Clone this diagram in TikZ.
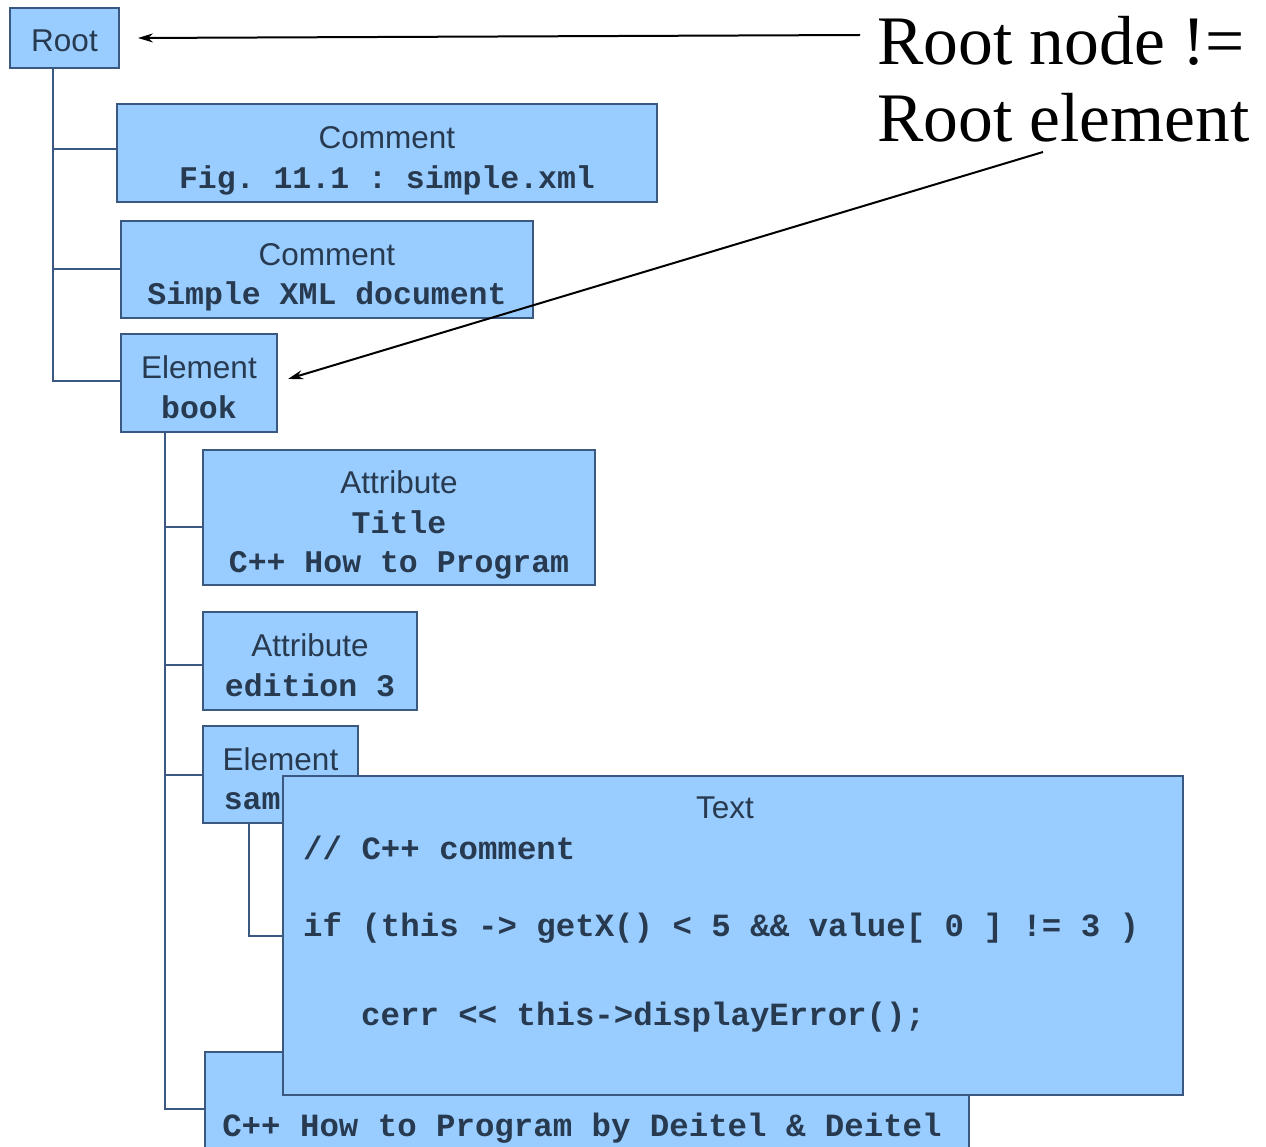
\documentclass[tikz,border=0pt]{standalone}
\usepackage{fontspec}
\setmainfont{Liberation Sans}
\newfontfamily\monotipo{Liberation Mono}
\newfontfamily\serifa{Liberation Serif}
\usetikzlibrary{calc, positioning, arrows.meta}
\definecolor{nodofondo}{RGB}{153,204,255}
\definecolor{nodoborde}{RGB}{58,88,128}
\definecolor{nodotexto}{RGB}{40,58,80}
\newcommand{\cod}[1]{{\monotipo\bfseries\frenchspacing #1}}
\newcommand{\alza}[1][31pt]{\rule{0pt}{#1}}

\begin{document}
\begin{tikzpicture}[
  x=1pt, y=-1pt,
  caja/.style={
    rectangle, draw=nodoborde, line width=2pt,
    fill=nodofondo, text=nodotexto,
    align=center, inner sep=2pt, text depth=-6pt,
    font=\fontsize{31.5}{39.5}\selectfont
  },
  codigo/.style={
    inner sep=0pt, text=nodotexto,
    font=\fontsize{32.4}{39.5}\selectfont\monotipo\bfseries\frenchspacing
  },
  etiq/.style={inner sep=0pt, text=nodotexto, font=\fontsize{31.5}{39.5}\selectfont},
  rama/.style={draw=nodoborde, line width=2pt},
  flecha/.style={-{Stealth[length=15pt, width=9pt]}, line width=2pt, black},
  nota/.style={inner sep=0pt, align=left, font=\serifa\fontsize{69.5}{77}\selectfont}
]
  \useasboundingbox (0,0) rectangle (1266,1147);
  \clip (0,0) rectangle (1266,1147);

  % --- Nodos ---
  \node[caja, minimum width=109pt, minimum height=60pt] (root) at (64.5,38) {\alza[27pt]Root};
  \node[caja, minimum width=540pt, minimum height=98pt] (com1) at (387,153)
    {\alza Comment\\\cod{Fig. 11.1 : simple.xml}};
  \node[caja, minimum width=412pt, minimum height=97pt] (com2) at (327,269.5)
    {\alza Comment\\\cod{Simple XML document}};
  \node[caja, minimum width=156pt, minimum height=98pt] (book) at (199,383)
    {\alza Element\\\cod{book}};
  \node[caja, minimum width=392pt, minimum height=135pt] (title) at (399,517.5)
    {\alza Attribute\\\cod{Title}\\\cod{C++ How to Program}};
  \node[caja, minimum width=214pt, minimum height=98pt] (edition) at (310,661)
    {\alza Attribute\\\cod{edition 3}};
  \node[caja, minimum width=155pt, minimum height=97pt] (sample) at (280.5,774.5)
    {\alza Element\\\cod{sample}};

  % --- Texto del libro (abajo) ---
  \node[caja, minimum width=764pt, minimum height=114pt] (deitel) at (587,1109) {};
  \node[codigo, anchor=base] (deitellbl) at (582,1136) {C++ How to Program by Deitel \& Deitel};

  % --- Nodo Text ---
  \node[caja, minimum width=900pt, minimum height=319pt] (codetext) at (733,935.5) {};
  \node[etiq, anchor=base] (textlbl) at (725,818) {Text};
  \node[codigo, anchor=base west] (linea1) at (303,859) {// C++ comment};
  \node[codigo, anchor=base west] (linea2) at (303,936)
    {if (this -> getX() < 5 \&\& value[ 0 ] != 3 )};
  \node[codigo, anchor=base west] (linea3) at (361,1025) {cerr << this->displayError();};

  % --- Ramas del arbol ---
  \draw[rama] ([xshift=-11.5pt]root.south) |- ([yshift=4pt]com1.west);
  \draw[rama] ([xshift=-11.5pt]root.south) |- (com2.west);
  \draw[rama] ([xshift=-11.5pt]root.south) |- ([yshift=2pt]book.west);

  \draw[rama] ([xshift=-34pt]book.south) |- ([yshift=-9.5pt]title.west);
  \draw[rama] ([xshift=-34pt]book.south) |- ([yshift=-4pt]edition.west);
  \draw[rama] ([xshift=-34pt]book.south) |- (sample.west);
  \draw[rama] ([xshift=-34pt]book.south) |- (deitel.west);

  \draw[rama] ([xshift=-31.5pt]sample.south) |- (codetext.west);

  % --- Nota y flechas ---
  \node[nota, anchor=north west] (nota) at (877,16) {Root node !=\\Root element};
  \coordinate (inicio1) at (860,35);
  \coordinate (inicio2) at (1043,152);
  \draw[flecha] (inicio1) -- ([xshift=18pt]root.east);
  \draw[flecha] (inicio2) -- ([xshift=10pt, yshift=4pt]book.east);
\end{tikzpicture}
\end{document}
